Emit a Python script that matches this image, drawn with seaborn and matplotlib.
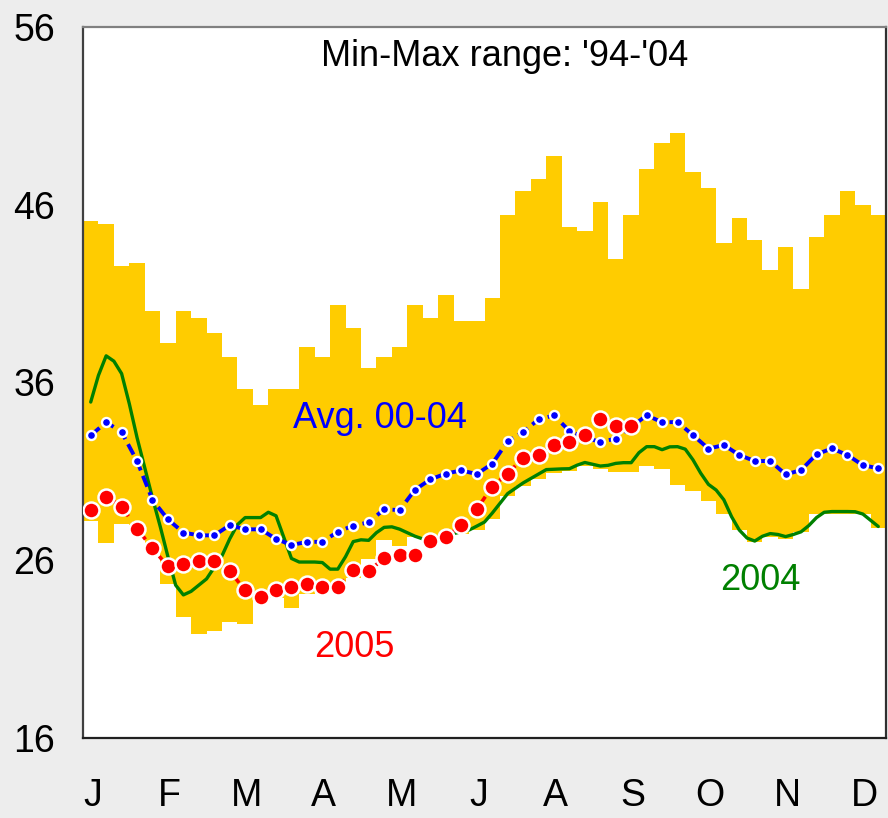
import matplotlib
matplotlib.use("Agg")
import matplotlib.pyplot as plt
import seaborn as sns
import numpy as np

# weekly min / max over '94-'04 (52 weeks)
range_max = [45.1, 44.93, 42.57, 42.74, 40.04, 38.21, 40.04, 39.65, 38.77, 37.46,
             35.66, 34.76, 35.66, 35.66, 38.02, 37.46, 40.38, 39.09, 36.79, 37.46,
             38.02, 40.38, 39.65, 40.94, 39.48, 39.48, 40.78, 45.44, 46.79, 47.46,
             48.75, 44.76, 44.54, 46.17, 42.97, 45.44, 48.02, 49.48, 50.04, 47.85,
             46.96, 43.87, 45.27, 44.03, 42.35, 43.64, 41.28, 44.2, 45.44, 46.79,
             46.0, 45.44]
range_min = [28.21, 26.96, 28.02, 28.0, 26.34, 24.65, 22.8, 21.84, 22.03, 22.54,
             22.4, 23.9, 23.9, 23.34, 24.1, 24.2, 24.3, 25.0, 26.06, 27.14,
             26.8, 27.33, 27.0, 27.1, 27.5, 27.7, 28.3, 29.6, 30.17, 30.55,
             30.9, 31.0, 31.3, 31.15, 30.96, 30.96, 31.3, 31.11, 30.21, 29.89,
             29.33, 28.58, 27.7, 27.0, 27.3, 27.2, 27.6, 28.58, 28.58, 28.58,
             28.58, 27.84]

# average 2000-2004, weekly
avg_00_04 = [33.02, 33.77, 33.21, 31.58, 29.39, 28.30, 27.56, 27.40, 27.40, 27.97,
             27.74, 27.74, 27.20, 26.86, 27.03, 27.04, 27.60, 27.95, 28.13, 28.87,
             28.82, 29.97, 30.55, 30.88, 31.05, 30.85, 31.43, 32.69, 33.22, 33.92,
             34.15, 33.27, 32.9, 32.66, 32.84, 33.5, 34.15, 33.77, 33.77, 33.04,
             32.28, 32.48, 31.92, 31.58, 31.58, 30.83, 31.07, 31.96, 32.29, 31.92,
             31.35, 31.17]

# 2005, weekly (first 36 weeks)
y2005 = [28.83, 29.58, 29.02, 27.78, 26.67, 25.65, 25.78, 25.96, 25.96, 25.40,
         24.3, 23.95, 24.32, 24.51, 24.68, 24.5, 24.5, 25.45, 25.4, 26.11,
         26.32, 26.32, 27.07, 27.28, 27.98, 28.88, 30.14, 30.87, 31.77, 31.94,
         32.5, 32.68, 33.03, 33.94, 33.58, 33.58]

# 2004, half-weekly
y2004 = [34.9, 36.4, 37.5, 37.2, 36.5, 34.8, 32.9, 31.2, 29.5, 27.9,
         26.2, 24.6, 24.05, 24.25, 24.6, 24.95, 25.6, 26.25, 27.2, 28.0,
         28.4, 28.4, 28.4, 28.7, 28.5, 27.3, 26.1, 25.9, 25.9, 25.9,
         25.87, 25.5, 25.5, 26.2, 27.05, 27.15, 27.12, 27.55, 27.85, 27.88,
         27.75, 27.55, 27.35, 27.2, 27.22, 27.3, 27.42, 27.5, 27.6, 27.7,
         27.92, 28.15, 28.65, 29.2, 29.75, 30.05, 30.35, 30.6, 30.85, 31.1,
         31.12, 31.14, 31.15, 31.35, 31.5, 31.4, 31.3, 31.34, 31.45, 31.49,
         31.49, 32.05, 32.39, 32.39, 32.22, 32.38, 32.39, 32.25, 31.65, 30.9,
         30.27, 29.95, 29.4, 28.45, 27.7, 27.25, 27.08, 27.35, 27.5, 27.45,
         27.33, 27.45, 27.6, 27.95, 28.4, 28.7, 28.74, 28.74, 28.74, 28.73,
         28.6, 28.25, 27.9]

months = ["J", "F", "M", "A", "M", "J", "A", "S", "O", "N", "D"]
y_ticks = [16, 26, 36, 46, 56]

sns.set_style("white")
plt.rcParams["font.family"] = ["Liberation Sans", "DejaVu Sans"]
plt.rcParams["text.color"] = "black"
plt.rcParams["xtick.color"] = "black"
plt.rcParams["ytick.color"] = "black"

n_weeks = len(range_max)
edges = np.arange(n_weeks + 1)
centers = np.arange(n_weeks) + 0.5
x2004 = np.arange(len(y2004)) * 0.5 + 0.5
x2005 = centers[:len(y2005)]

fig = plt.figure(figsize=(8.88, 8.18), dpi=100, facecolor="#ededed")
ax = fig.add_axes([83 / 888, 80 / 818, 803 / 888, 711 / 818])
ax.set_facecolor("white")

ax.fill_between(edges, range_min + [range_min[-1]], range_max + [range_max[-1]],
                step="post", color="#FFCC00", linewidth=0, zorder=1)

sns.lineplot(x=x2004, y=y2004, color="#008000", linewidth=2.4, sort=False,
             estimator=None, ax=ax, zorder=3)
sns.lineplot(x=centers, y=avg_00_04, color="#0000FF", linewidth=2.8,
             linestyle=(0, (3, 1.5)),
             marker="o", markersize=6.5, markerfacecolor="#0000FF",
             markeredgecolor="white", markeredgewidth=1.7, sort=False,
             estimator=None, ax=ax, zorder=4)
sns.lineplot(x=x2005, y=y2005, color="#FF0000", linewidth=2.6,
             linestyle=(0, (2, 2)),
             marker="o", markersize=11.5, markerfacecolor="#FF0000",
             markeredgecolor="white", markeredgewidth=1.8, sort=False,
             estimator=None, ax=ax, zorder=5)

ax.set_xlim(0, n_weeks)
ax.set_ylim(16, 56)
ax.set_yticks(y_ticks)
ax.set_xticks(np.arange(5, 51, 5))
ax.set_xticklabels([])
ax.set_xticks(np.arange(len(months)) * 5 + 0.6, minor=True)
ax.set_xticklabels(months, minor=True)
ax.set_xlabel("")
ax.set_ylabel("")

ax.tick_params(axis="y", direction="in", length=9, width=1.3, color="#606060",
               pad=20, labelsize=27, labelcolor="black")
ax.tick_params(axis="x", which="major", direction="in", length=12, width=1.3,
               color="#606060")
ax.tick_params(axis="x", which="minor", length=0, pad=29, labelsize=27,
               labelcolor="black")

for side, col in [("left", "#404040"), ("bottom", "#202020"),
                  ("top", "#808080"), ("right", "#303030")]:
    ax.spines[side].set_visible(True)
    ax.spines[side].set_color(col)
    ax.spines[side].set_linewidth(1.6)

ax.text(0.525, 0.958, "Min-Max range: '94-'04", transform=ax.transAxes,
        ha="center", va="center", fontsize=26, color="black")
ax.text(0.37, 0.45, "Avg. 00-04", transform=ax.transAxes,
        ha="center", va="center", fontsize=26, color="#0000FF")
ax.text(0.3375, 0.127, "2005", transform=ax.transAxes,
        ha="center", va="center", fontsize=26, color="#FF0000")
ax.text(0.843, 0.222, "2004", transform=ax.transAxes,
        ha="center", va="center", fontsize=26, color="#008000")

fig.savefig("out.png", dpi=100, facecolor=fig.get_facecolor())
